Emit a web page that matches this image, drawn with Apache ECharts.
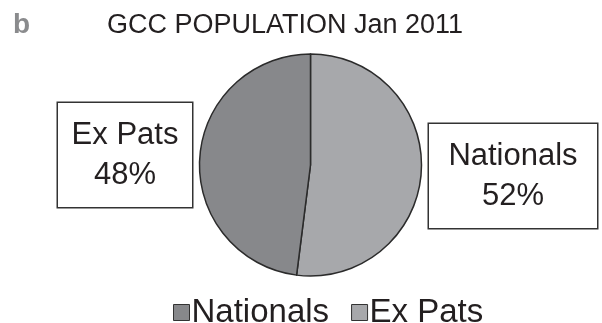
<!DOCTYPE html>
<html>
<head>
<meta charset="utf-8">
<script src="https://cdn.jsdelivr.net/npm/echarts@6/dist/echarts.min.js"></script>
<style>
  html, body { margin: 0; padding: 0; background: #fff; }
  #chart { width: 602px; height: 323px; }
</style>
</head>
<body>
<div id="chart"></div>
<script>
// data
const groups = ['Nationals', 'Ex Pats'];
const shares = [52, 48];
const sliceColors = ['#a7a8ab', '#87888b'];
// legend swatches in the original are swapped relative to the slices
const legendColors = ['#87888b', '#a7a8ab'];

const font = 'Liberation Sans, Arial, Helvetica, sans-serif';
const ink = '#231f20';

// where each boxed label sits (centre of box)
const labelSpots = [
  { x: 513, y: 176, w: 168 },
  { x: 125, y: 155, w: 134 }
];

const chart = echarts.init(document.getElementById('chart'));

const option = {
  animation: false,
  title: [
    {
      text: 'b',
      left: 8, top: 6,
      textStyle: { fontFamily: font, fontSize: 28, fontWeight: 'bold', color: '#8a8b8d' }
    },
    {
      text: 'GCC POPULATION Jan 2011',
      left: 102, top: 7,
      textStyle: { fontFamily: font, fontSize: 27, fontWeight: 'normal', color: ink }
    }
  ],
  legend: {
    left: 168,
    top: 291,
    itemWidth: 16,
    itemHeight: 16,
    itemGap: 22,
    icon: 'rect',
    textStyle: { fontFamily: font, fontSize: 33, color: ink, padding: [0, 0, 0, -3] },
    data: groups.map((g, i) => ({
      name: g,
      itemStyle: { color: legendColors[i], borderColor: '#333', borderWidth: 1 }
    }))
  },
  series: [
    {
      type: 'pie',
      center: [310.5, 165],
      radius: 111,
      startAngle: 90,
      clockwise: true,
      silent: true,
      itemStyle: { borderColor: '#2b2b2b', borderWidth: 1.5 },
      labelLine: { show: false },
      label: {
        show: true,
        formatter: '{b}\n{c}%',
        fontFamily: font,
        fontSize: 31,
        lineHeight: 40,
        color: ink,
        align: 'center',
        backgroundColor: '#fff',
        borderColor: '#333',
        borderWidth: 1.5,
        padding: [12, 0, 12, 0]
      },
      labelLayout: function (params) {
        const s = labelSpots[params.dataIndex];
        return { x: s.x, y: s.y, align: 'center', verticalAlign: 'middle' };
      },
      data: groups.map((g, i) => ({
        name: g,
        value: shares[i],
        itemStyle: { color: sliceColors[i] },
        label: { width: labelSpots[i].w }
      }))
    }
  ]
};

chart.setOption(option);
</script>
</body>
</html>
